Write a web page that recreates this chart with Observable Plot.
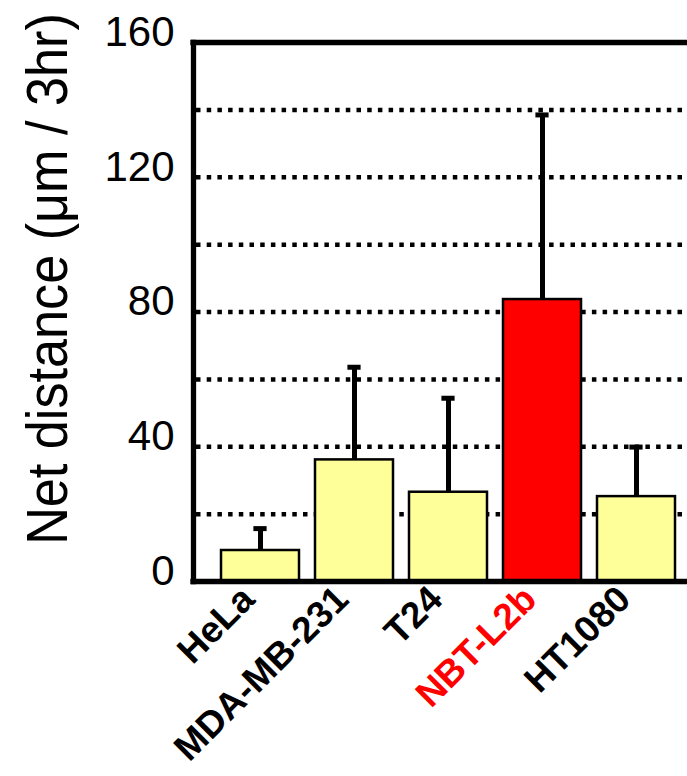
<!DOCTYPE html>
<html>
<head>
<meta charset="utf-8">
<script src="https://cdn.jsdelivr.net/npm/d3@7"></script>
<script src="https://cdn.jsdelivr.net/npm/@observablehq/plot@0.6"></script>
<style>
  html, body { margin: 0; padding: 0; background: #fff; overflow: hidden; }
</style>
</head>
<body>
<div id="chart"></div>
<script>
const categories = ["HeLa", "MDA-MB-231", "T24", "NBT-L2b", "HT1080"];
const means = [9.2, 36.1, 26.5, 83.7, 25.2];
const errors = [6.5, 27.5, 27.9, 54.8, 14.7];
const barColors = ["#FFFF99", "#FFFF99", "#FFFF99", "#FF0000", "#FFFF99"];
const labelColors = ["#000000", "#000000", "#000000", "#FF0000", "#000000"];
const yTicks = [0, 40, 80, 120, 160];
const gridLines = [20, 40, 60, 80, 100, 120, 140];
const yTitle = "Net distance (μm / 3hr)";

const data = categories.map((c, i) => ({
  cat: c, mean: means[i], err: errors[i], fill: barColors[i], label: labelColors[i]
}));

const svg = Plot.plot({
  width: 687,
  height: 776,
  marginLeft: 193,
  marginRight: 0,
  marginTop: 42,
  marginBottom: 195,
  style: { fontFamily: "'Liberation Sans', Arial, sans-serif", color: "black", background: "white" },
  x: { domain: categories, range: [203, 694], padding: 0.17, axis: null },
  y: { domain: [0, 160], axis: null },
  color: { type: "identity" },
  marks: [
    Plot.ruleY(gridLines, { stroke: "black", strokeWidth: 4.5, strokeDasharray: "4.5 6.2", strokeDashoffset: -3 }),
    Plot.barY(data, { x: "cat", y: "mean", fill: "fill", stroke: "black", strokeWidth: 2.5 }),
    Plot.ruleX(data, { x: "cat", y1: "mean", y2: d => d.mean + d.err, stroke: "black", strokeWidth: 5 }),
    Plot.tickY(data, { x: "cat", y: d => d.mean + d.err, stroke: "black", strokeWidth: 5, insetLeft: 32.4, insetRight: 32.4 }),
    Plot.ruleY([0, 160], { stroke: "black", strokeWidth: 5.3, strokeLinecap: "square" }),
    Plot.frame({ anchor: "left", stroke: "black", strokeWidth: 5.3 }),
    Plot.axisY(yTicks, { tickSize: 0, tickPadding: 19, fontSize: 42, dy: -10, label: null }),
    Plot.text(data, {
      x: "cat", text: "cat", frameAnchor: "bottom", rotate: -45, textAnchor: "end",
      fontSize: 37, fontWeight: "bold", fill: "label", dy: 20, dx: -4
    }),
    Plot.text([yTitle], { frameAnchor: "left", rotate: -90, fontSize: 58, dx: -145, dy: -33, textAnchor: "middle", fill: "black" })
  ]
});

d3.select(svg).selectAll("text")
  .filter(function () { return this.textContent === yTitle; })
  .attr("transform", function () { return (this.getAttribute("transform") || "") + " scale(0.9,1)"; });

document.getElementById("chart").appendChild(svg);
</script>
</body>
</html>
